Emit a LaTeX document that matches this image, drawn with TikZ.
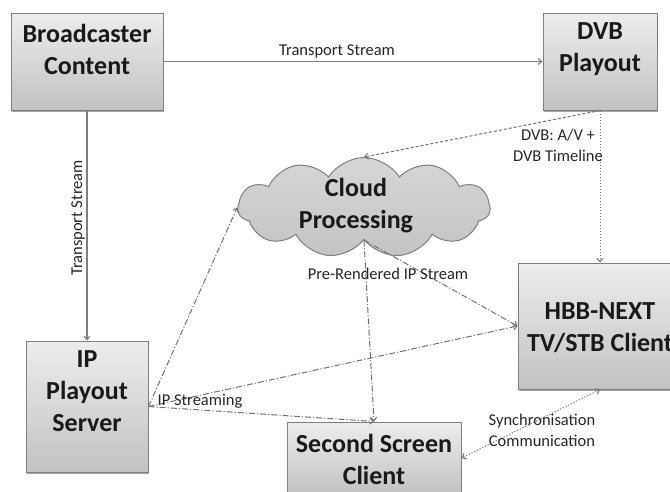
\documentclass[tikz,border=0pt]{standalone}
\usepackage{fontspec}
\setmainfont{Carlito}
\usetikzlibrary{arrows.meta,shapes.symbols,shadows}
\definecolor{linegray}{HTML}{7F7F7F}
\definecolor{boxtop}{HTML}{EDEDED}
\definecolor{boxbot}{HTML}{C2C2C2}
\definecolor{cloudtop}{HTML}{D6D6D6}
\definecolor{cloudbot}{HTML}{C4C4C4}
\begin{document}
\begin{tikzpicture}[x=1pt,y=-1pt,
  box/.style={draw=linegray, line width=1pt, top color=boxtop, bottom color=boxbot, inner sep=0pt,
    drop shadow={shadow xshift=1pt, shadow yshift=-1.5pt, fill=black, opacity=0.35}},
  btext/.style={font=\fontsize{26}{32}\selectfont\bfseries, align=center, text=black!90, inner sep=0pt},
  lbl/.style={font=\fontsize{16.5}{21}\selectfont, align=center, text=black!85, inner sep=0pt},
  tip/.style={-{Straight Barb[length=3.5pt,width=6pt]}},
  solidln/.style={draw=linegray, line width=1.1pt, tip},
  dotln/.style={draw=linegray!90!black, line width=1pt, dash pattern=on 1.2pt off 1.8pt},
  dashln/.style={draw=linegray!90!black, line width=1pt, dash pattern=on 3pt off 2pt},
  dashdotln/.style={draw=linegray!90!black, line width=1pt, dash pattern=on 6pt off 2pt on 1.2pt off 2pt},
]
\useasboundingbox (0,0) rectangle (670,491);
\clip (0,0) rectangle (670,491);

% boxes
\node[box, minimum width=152pt, minimum height=97pt] (bc) at (87,61.5) {};
\node[btext] (bct) at (87,49) {Broadcaster\\Content};

\node[box, minimum width=114pt, minimum height=97pt] (dvb) at (600,61.5) {};
\node[btext] (dvbt) at (600,49) {DVB\\Playout};

\node[box, minimum width=122pt, minimum height=131pt] (ip) at (87,406.5) {};
\node[btext] (ipt) at (87,391) {IP\\Playout\\Server};

\node[box, minimum width=164pt, minimum height=126pt] (hbb) at (600,326) {};
\node[btext] (hbbt) at (600,328) {HBB-NEXT\\TV/STB Client};

\node[box, minimum width=174pt, minimum height=72pt] (ss) at (374,458) {};
\node[btext] (sst) at (374,459) {Second Screen\\Client};

% cloud
\node[cloud, cloud puffs=11, cloud puff arc=115, cloud ignores aspect, draw=linegray, line width=1pt,
  top color=cloudtop, bottom color=cloudbot, minimum width=252pt, minimum height=100pt, inner sep=0pt]
  (cloud) at (364,207.5) {};
\node[btext] (cloudt) at (356,206) {Cloud\\Processing};

% connectors
\draw[solidln] (bc.east) -- (dvb.west);
\draw[solidln] (bc.south) -- (ip.north);
\draw[dotln, tip] (dvb.south) -- (hbb.north);
\draw[dashln, tip] (dvb.south) -- (cloud.north);
\draw[dashdotln, tip] (ip.east) -- (cloud.west);
\draw[dashdotln, tip] (ip.east) -- (hbb.west);
\draw[dashdotln, tip] (ip.east) -- (ss.north);
\draw[dashdotln, tip] (cloud.south) -- (hbb.west);
\draw[dashdotln, tip] (cloud.south) -- (ss.north);
\draw[dotln, {Straight Barb[length=3.5pt,width=6pt]}-{Straight Barb[length=3.5pt,width=6pt]}] (hbb.south) -- (ss.east);

% labels
\node[lbl] (l1) at (337,51) {Transport Stream};
\node[lbl, rotate=90] (l2) at (78,218) {Transport Stream};
\node[lbl] (l3) at (558,145) {DVB: A/V +\\DVB Timeline};
\node[lbl] (l4) at (388,274) {Pre-Rendered IP Stream};
\node[lbl] (l5) at (200,401) {IP Streaming};
\node[lbl] (l6) at (542,430) {Synchronisation\\Communication};
\end{tikzpicture}
\end{document}
